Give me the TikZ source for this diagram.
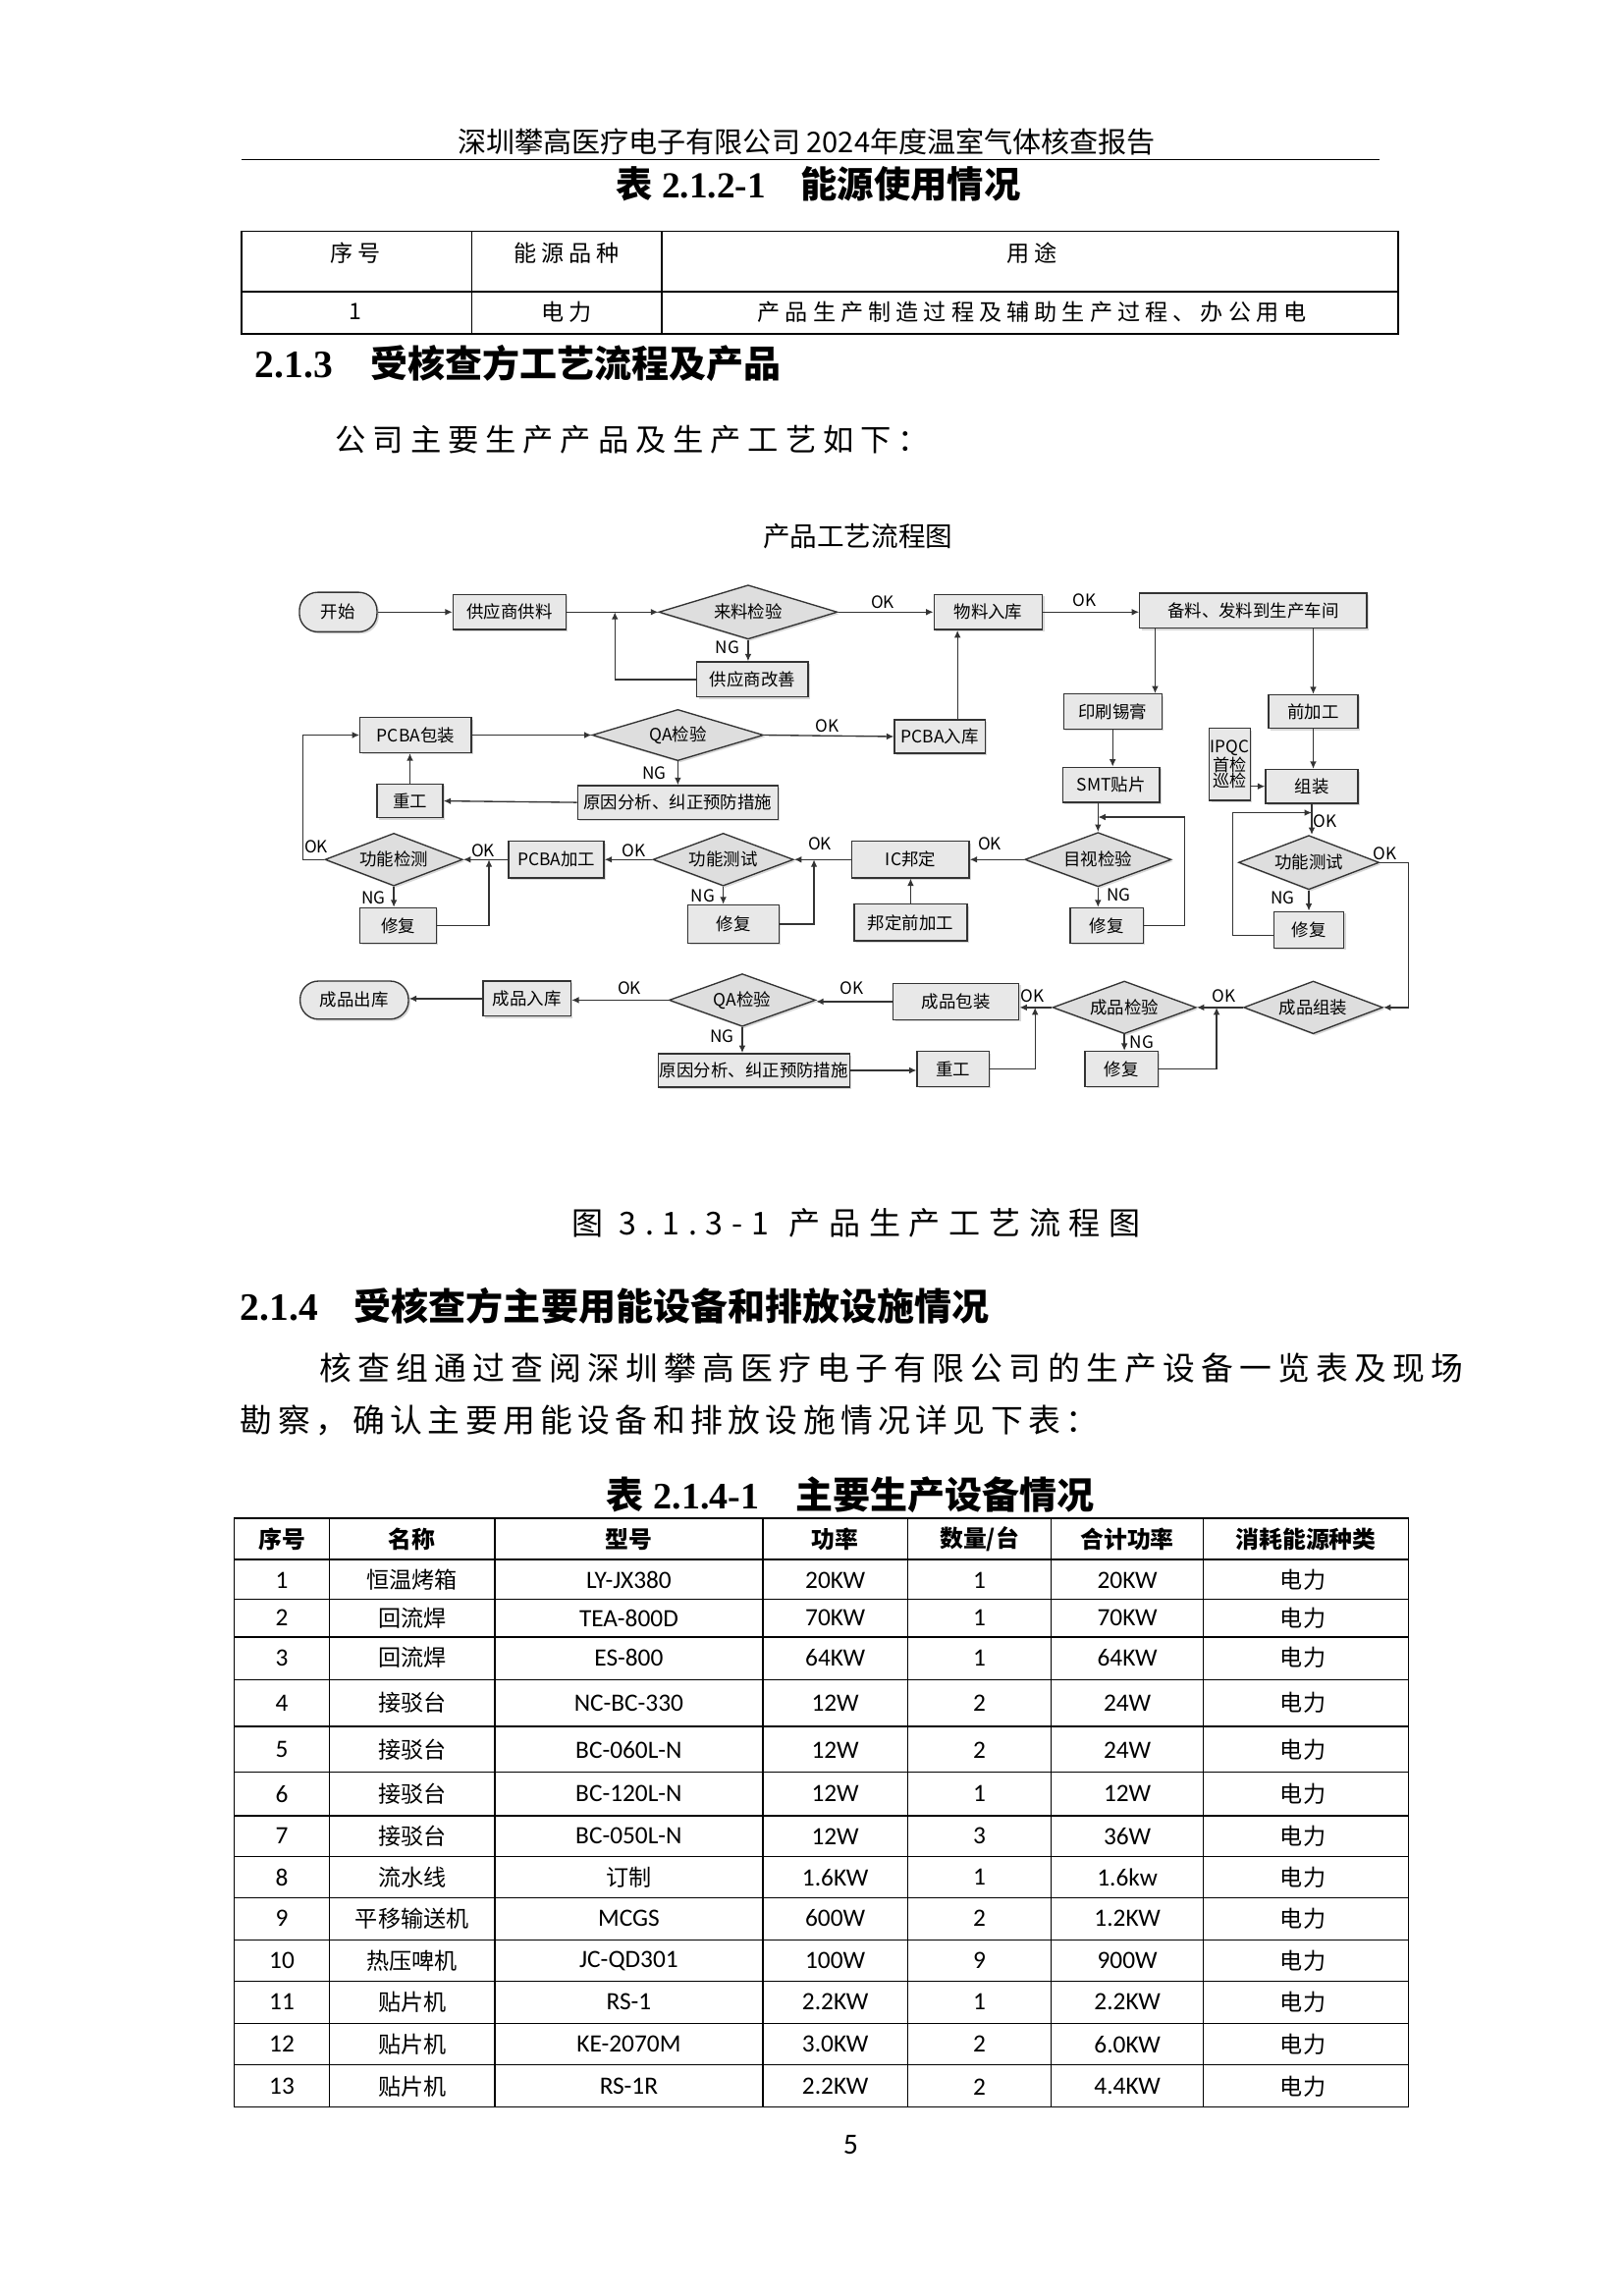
\documentclass[tikz,border=0pt]{standalone}
\usepackage{fontspec}
\setmainfont{Liberation Serif}
\newfontfamily\fhei{Noto Sans CJK SC}
\newfontfamily\fsong{Noto Sans CJK SC}
\newfontfamily\ffang{Noto Sans CJK SC}
\newfontfamily\calib{Carlito}
\newcommand{\fsz}[1]{\fontsize{#1}{#1}\selectfont}
\usetikzlibrary{shapes.geometric,arrows.meta,shadows}
\tikzset{
 shd/.style={drop shadow={shadow xshift=1.3pt,shadow yshift=-1.3pt,opacity=0.3}},
 fbox/.style={draw=black!80,fill=black!9,line width=0.9pt,inner sep=1pt,font=\fhei\fsz{11.7},shd},
 fterm/.style={fbox,rounded corners=12.5pt},
 fdia/.style={diamond,aspect=2.7,draw=black!80,fill=black!13,line width=0.9pt,inner sep=0pt,font=\fhei\fsz{11.7},shd},
 farr/.style={draw=black!80,line width=0.9pt,-{Latex[length=5pt,width=4.5pt]}},
 flab/.style={font=\fhei\fsz{11.5},inner sep=0pt},
 t1txt/.style={font=\ffang\fsz{15.5}\addfontfeature{LetterSpace=22},inner sep=0pt},
 t2txt/.style={font=\fhei\fsz{15.5},inner sep=0pt},
 t2lat/.style={font=\calib\fsz{17},inner sep=0pt},
 t2hd/.style={font=\fhei\bfseries\fsz{16},inner sep=0pt},
}
\begin{document}
\begin{tikzpicture}[x=1pt,y=-1pt]
\useasboundingbox (0,0) rectangle (1109,1568);
\fill[white] (0,0) rectangle (1109,1568);

% ---------- page header ----------
\node[font=\fsong\fsz{19.5},inner sep=0pt] (hdr) at (551,97) {深圳攀高医疗电子有限公司 2024年度温室气体核查报告};
\draw[line width=1.3pt] (165,109) -- (942,109);
\node[font=\fsz{25}\bfseries,inner sep=0pt] (tt1) at (559,126) {{\fsong 表} 2.1.2-1\hspace{24pt}{\fsong 能源使用情况}};

% ---------- table 1 ----------
\draw[line width=1.1pt] (165,158) rectangle (955,228);
\draw[line width=1.1pt] (165,199) -- (955,199);
\draw[line width=0.8pt] (322,158) -- (322,228) (452,158) -- (452,228);
\node[t1txt] (t1a) at (243,173) {序号};
\node[t1txt] (t1b) at (387,173) {能源品种};
\node[t1txt] (t1c) at (705,173) {用途};
\node[t1txt] (t1d) at (243,213) {1};
\node[t1txt] (t1e) at (387,213) {电力};
\node[t1txt] (t1f) at (705,213) {产品生产制造过程及辅助生产过程、办公用电};

% ---------- 2.1.3 ----------
\node[anchor=west,font=\fsz{26.5}\bfseries,inner sep=0pt] (h213) at (174,248) {2.1.3\hspace{20pt}{\fsong\fsz{25.5} 受核查方工艺流程及产品}};
\node[anchor=west,font=\fsong\fsz{21}\addfontfeature{LetterSpace=22},inner sep=0pt] (par1) at (229,300) {公司主要生产产品及生产工艺如下：};
\node[font=\fsong\fsz{18.5},inner sep=0pt] (fct) at (586,366) {产品工艺流程图};

% ---------- flowchart nodes ----------
% row 1
\node[fterm,minimum width=53pt,minimum height=27pt] (start) at (231,418) {开始};
\node[fbox,minimum width=77pt,minimum height=24pt] (s1) at (348,418) {供应商供料};
\node[fdia,minimum width=122pt,minimum height=37pt] (d1) at (511,418) {来料检验};
\node[fbox,minimum width=74pt,minimum height=24pt] (s2) at (675,418) {物料入库};
\node[fbox,minimum width=155pt,minimum height=24pt] (s3) at (856,417) {备料、发料到生产车间};
\node[fbox,minimum width=76pt,minimum height=24pt] (s4) at (514,464) {供应商改善};
% row 2
\node[fbox,minimum width=76pt,minimum height=24pt] (p1) at (284,502) {PCBA包装};
\node[fdia,minimum width=117pt,minimum height=35pt] (d2) at (463,502) {QA检验};
\node[fbox,minimum width=62pt,minimum height=23pt] (p2) at (642,503) {PCBA入库};
\node[fbox,minimum width=67pt,minimum height=24pt] (p3) at (760,486) {印刷锡膏};
\node[fbox,minimum width=61pt,minimum height=23pt] (p4) at (897,486) {前加工};
\node[fbox,minimum width=137pt,minimum height=23pt] (p5) at (463,548) {原因分析、纠正预防措施};
\node[fbox,minimum width=45pt,minimum height=23pt] (p6) at (280,547) {重工};
\node[fbox,minimum width=66pt,minimum height=24pt] (p7) at (759,536) {SMT贴片};
\node[fbox,minimum width=28pt,minimum height=49pt,align=center,inner sep=0pt,font=\fhei\fsz{11.5}\linespread{0.95}\selectfont] (ipqc) at (840,522) {IPQC\\首检\\巡检};
\node[fbox,minimum width=63pt,minimum height=23pt] (p8) at (896,537) {组装};
% row 3
\node[fdia,minimum width=94pt,minimum height=36pt] (d3) at (269,587) {功能检测};
\node[fbox,minimum width=65pt,minimum height=25pt] (q1) at (380,587) {PCBA加工};
\node[fdia,minimum width=96pt,minimum height=36pt] (d4) at (494,587) {功能测试};
\node[fbox,minimum width=80pt,minimum height=25pt] (q2) at (622,587) {IC邦定};
\node[fdia,minimum width=100pt,minimum height=37pt] (d5) at (750,587) {目视检验};
\node[fdia,minimum width=96pt,minimum height=37pt] (d6) at (894,589) {功能测试};
\node[fbox,minimum width=52pt,minimum height=24pt] (r1) at (272,632) {修复};
\node[fbox,minimum width=62pt,minimum height=26pt] (r2) at (501,631) {修复};
\node[fbox,minimum width=77pt,minimum height=25pt] (q3) at (622,630) {邦定前加工};
\node[fbox,minimum width=50pt,minimum height=24pt] (r3) at (756,632) {修复};
\node[fbox,minimum width=48pt,minimum height=25pt] (r4) at (894,635) {修复};
% row 4
\node[fterm,minimum width=74pt,minimum height=26pt] (fin) at (242,683) {成品出库};
\node[fbox,minimum width=60pt,minimum height=24pt] (f1) at (360,682) {成品入库};
\node[fdia,minimum width=100pt,minimum height=36pt] (d7) at (507,683) {QA检验};
\node[fbox,minimum width=86pt,minimum height=25pt] (f2) at (653,684) {成品包装};
\node[fdia,minimum width=98pt,minimum height=36pt] (d8) at (768,688) {成品检验};
\node[fdia,minimum width=95pt,minimum height=36pt] (d9) at (897,688) {成品组装};
\node[fbox,minimum width=130pt,minimum height=23pt] (f3) at (515,731) {原因分析、纠正预防措施};
\node[fbox,minimum width=49pt,minimum height=24pt] (f4) at (651,730) {重工};
\node[fbox,minimum width=50pt,minimum height=24pt] (r5) at (766,730) {修复};

% ---------- junction points ----------
\coordinate (j1) at (420,418);
\coordinate (x789) at (789,0);
\coordinate (L4) at (842,555);
\coordinate (R6) at (962,589);
\coordinate (J9) at (831,688);
\coordinate (J8) at (707,688);
\coordinate (L3) at (809,558);
\coordinate (J4) at (556,587);
\coordinate (J3) at (334,587);
\coordinate (LL) at (207,587);

% ---------- connectors ----------
\draw[farr] (start) -- (s1);
\draw[farr] (s1) -- (d1.west);
\draw[farr] (d1.east) -- (s2.west);
\draw[farr] (s2.east) -- (s2.east -| s3.west);
\draw[farr] (d1.south) -- (d1.south |- s4.north);
\draw[farr] (s4.west) -| (j1);
\draw[farr] (s3.south -| x789) -- (p3.north -| x789);
\draw[farr] (s3.south -| p4) -- (p4.north);
\draw[farr] (p3.south) -- (p3.south |- p7.north);
\draw[farr] (p4.south) -- (p4.south |- p8.north);
\draw[farr] (ipqc.east |- p8) -- (p8.west);
\draw[farr] (p8.south) -- (p8.south |- d6.north);
\draw[farr] ([yshift=-4pt]r4.west) -| (L4) -- (L4 -| p8.south);
\draw[farr] (d6.south) -- (d6.south |- r4.north);
\draw[farr] (d6.east) -- (R6) |- (d9.east);
\draw[farr] (d9.west) -- (d8.east);
\draw[farr] (d8.south) -- (d8.south |- r5.north);
\draw[farr] (r5.east) -| (J9);
\draw[farr] (d8.west) -- (d8.west -| f2.east);
\draw[farr] (f4.east) -| (J8);
\draw[farr] (f3.east) -- (f3.east -| f4.west);
\draw[farr] (d7.south) -- (d7.south |- f3.north);
\draw[farr] (f2.west) -- (f2.west -| d7.east);
\draw[farr] (d7.west) -- (d7.west -| f1.east);
\draw[farr] (f1.west) -- (f1.west -| fin.east);
\draw[farr] (d5.north |- p7.south) -- (d5.north);
\draw[farr] (r3.east) -| (L3) -- (L3 -| d5.north);
\draw[farr] (d5.south) -- (d5.south |- r3.north);
\draw[farr] (d5.west) -- (q2.east);
\draw[farr] (q3.north) -- (q2.south);
\draw[farr] (q2.west) -- (d4.east);
\draw[farr] (r2.east) -| (J4);
\draw[farr] (d4.south) -- (d4.south |- r2.north);
\draw[farr] (d4.west) -- (q1.east);
\draw[farr] (q1.west) -- (d3.east);
\draw[farr] (r1.east) -| (J3);
\draw[farr] (d3.south) -- (d3.south |- r1.north);
\draw[farr] (d3.west) -- (LL) |- (p1.west);
\draw[farr] (p1.east) -- (d2.west);
\draw[farr] (d2.east) -- (p2.west);
\draw[farr] (d2.south) -- (d2.south |- p5.north);
\draw[farr] (p5.west) -- (p6.east);
\draw[farr] (p6.north) -- (p6.north |- p1.south);
\draw[farr] ([xshift=12pt]p2.north) -- ([xshift=12pt]p2.north |- s2.south);

% ---------- OK / NG labels ----------
\node[flab] (k1) at (603,411) {OK};
\node[flab] (k2) at (741,410) {OK};
\node[flab] (n1) at (497,442) {NG};
\node[flab] (k3) at (565,496) {OK};
\node[flab] (n2) at (447,528) {NG};
\node[flab] (k4) at (216,578) {OK};
\node[flab] (k5) at (330,581) {OK};
\node[flab] (k6) at (433,581) {OK};
\node[flab] (k7) at (560,576) {OK};
\node[flab] (k8) at (676,576) {OK};
\node[flab] (k9) at (905,561) {OK};
\node[flab] (k10) at (946,583) {OK};
\node[flab] (n3) at (255,613) {NG};
\node[flab] (n4) at (480,612) {NG};
\node[flab] (n5) at (764,611) {NG};
\node[flab] (n6) at (876,613) {NG};
\node[flab] (k11) at (430,675) {OK};
\node[flab] (k12) at (582,675) {OK};
\node[flab] (k13) at (705,680) {OK};
\node[flab] (k14) at (836,680) {OK};
\node[flab] (n7) at (493,708) {NG};
\node[flab] (n8) at (780,712) {NG};

% ---------- caption & 2.1.4 ----------
\node[font=\ffang\fsz{21.5}\addfontfeature{LetterSpace=27},inner sep=0pt] (cap) at (585,835) {图 3.1.3-1\hspace{14pt}产品生产工艺流程图};
\node[anchor=west,font=\fsz{26.5}\bfseries,inner sep=0pt] (h214) at (164,892) {2.1.4\hspace{19pt}{\fsong\fsz{25.5} 受核查方主要用能设备和排放设施情况}};
\node[anchor=west,font=\fsong\fsz{22}\addfontfeature{LetterSpace=19},inner sep=0pt] (par2) at (218,934) {核查组通过查阅深圳攀高医疗电子有限公司的生产设备一览表及现场};
\node[anchor=west,font=\fsong\fsz{22}\addfontfeature{LetterSpace=16.5},inner sep=0pt] (par3) at (164,970) {勘察，确认主要用能设备和排放设施情况详见下表：};
\node[font=\fsz{25.5}\bfseries,inner sep=0pt] (tt2) at (581,1021) {{\fsong 表} 2.1.4-1\hspace{25pt}{\fsong 主要生产设备情况}};

% ---------- table 2 ----------
\draw[line width=1.1pt] (160,1037) rectangle (962,1439);
\foreach \yy in {1065,1092,1118,1147,1179,1210,1240,1268,1296,1325,1353,1382,1410}
  \draw[line width=0.9pt] (160,\yy) -- (962,\yy);
\foreach \xx in {225,338,521,620,718,822}
  \draw[line width=0.9pt] (\xx,1037) -- (\xx,1439);
\node[t2hd] (h1) at (192.5,1051) {序号};
\node[t2hd] (h2) at (281.5,1051) {名称};
\node[t2hd] (h3) at (429.5,1051) {型号};
\node[t2hd] (h4) at (570.5,1051) {功率};
\node[t2hd] (h5) at (669,1051) {数量/台};
\node[t2hd] (h6) at (770,1051) {合计功率};
\node[t2hd] (h7) at (892,1051) {消耗能源种类};
\foreach \k/\yy/\nm/\md/\pw/\qt/\tot in {
  1/1079/恒温烤箱/LY-JX380/20KW/1/20KW,
  2/1105/回流焊/TEA-800D/70KW/1/70KW,
  3/1132/回流焊/ES-800/64KW/1/64KW,
  4/1163/接驳台/NC-BC-330/12W/2/24W,
  5/1195/接驳台/BC-060L-N/12W/2/24W,
  6/1225/接驳台/BC-120L-N/12W/1/12W,
  7/1254/接驳台/BC-050L-N/12W/3/36W,
  8/1282/流水线/{\fhei\fsz{15.5}订制}/1.6KW/1/1.6kw,
  9/1310/平移输送机/MCGS/600W/2/1.2KW,
  10/1339/热压啤机/JC-QD301/100W/9/900W,
  11/1367/贴片机/RS-1/2.2KW/1/2.2KW,
  12/1396/贴片机/KE-2070M/3.0KW/2/6.0KW,
  13/1425/贴片机/RS-1R/2.2KW/2/4.4KW}{
  \node[t2lat] (c\k a) at (192.5,\yy) {\k};
  \node[t2txt] (c\k b) at (281.5,\yy) {\nm};
  \node[t2lat] (c\k c) at (429.5,\yy) {\md};
  \node[t2lat] (c\k d) at (570.5,\yy) {\pw};
  \node[t2lat] (c\k e) at (669,\yy) {\qt};
  \node[t2lat] (c\k f) at (770,\yy) {\tot};
  \node[t2txt] (c\k g) at (890,\yy) {电力};
}
\node[font=\calib\fsz{20},inner sep=0pt] (pg) at (581,1465) {5};
\end{tikzpicture}
\end{document}
